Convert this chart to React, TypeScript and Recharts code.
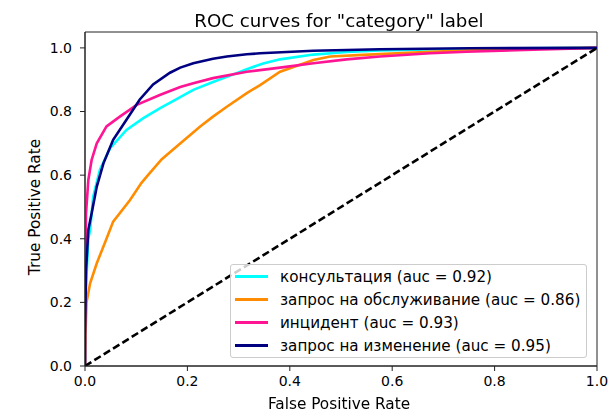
import React from "react";
import { LineChart, Line, XAxis, YAxis, ReferenceArea } from "recharts";

const fprCyan = [0, 0, 0.002, 0.0065, 0.01, 0.016, 0.029, 0.049, 0.081, 0.114, 0.146, 0.186, 0.2115, 0.25, 0.277, 0.316, 0.348, 0.381, 0.446, 0.511, 0.576, 0.7, 0.85, 1];
const tprCyan = [0, 0.15, 0.25, 0.4, 0.428, 0.532, 0.616, 0.685, 0.742, 0.779, 0.81, 0.845, 0.868, 0.893, 0.909, 0.933, 0.951, 0.964, 0.979, 0.987, 0.992, 0.996, 0.999, 1];

const fprOrange = [0, 0.001, 0.003, 0.01, 0.023, 0.042, 0.055, 0.088, 0.11, 0.123, 0.15, 0.179, 0.225, 0.25, 0.277, 0.316, 0.342, 0.381, 0.446, 0.479, 0.543, 0.674, 0.8, 0.9, 1];
const tprOrange = [0, 0.1, 0.2, 0.26, 0.323, 0.4, 0.454, 0.522, 0.575, 0.6, 0.65, 0.69, 0.753, 0.784, 0.815, 0.858, 0.883, 0.925, 0.962, 0.973, 0.978, 0.988, 0.995, 0.999, 1];

const fprPink = [0, 0, 0.001, 0.002, 0.0065, 0.013, 0.023, 0.042, 0.068, 0.101, 0.146, 0.186, 0.2115, 0.25, 0.316, 0.381, 0.446, 0.511, 0.576, 0.674, 0.745, 0.875, 1];
const tprPink = [0, 0.2, 0.35, 0.48, 0.585, 0.648, 0.7, 0.753, 0.784, 0.821, 0.852, 0.877, 0.889, 0.905, 0.925, 0.938, 0.952, 0.964, 0.973, 0.983, 0.988, 0.994, 1];

const fprNavy = [0, 0, 0.002, 0.0065, 0.013, 0.023, 0.036, 0.055, 0.081, 0.107, 0.133, 0.166, 0.186, 0.2115, 0.25, 0.277, 0.316, 0.342, 0.446, 0.576, 0.75, 1];
const tprNavy = [0, 0.1, 0.3, 0.428, 0.48, 0.564, 0.637, 0.711, 0.774, 0.838, 0.885, 0.922, 0.938, 0.952, 0.966, 0.973, 0.98, 0.983, 0.991, 0.996, 0.999, 1];

const chanceX = [0, 1];
const chanceY = [0, 1];

const seriesNames = [
  "консультация (auc = 0.92)",
  "запрос на обслуживание (auc = 0.86)",
  "инцидент (auc = 0.93)",
  "запрос на изменение (auc = 0.95)",
];
const seriesColors = ["#00FFFF", "#FF8C00", "#FF1493", "#000080"];

const xTicks = [0, 0.2, 0.4, 0.6, 0.8, 1.0];
const yTicks = [0, 0.2, 0.4, 0.6, 0.8, 1.0];

const toPts = (f: number[], t: number[]) => f.map((x, i) => ({ x, y: t[i] }));

const series = [
  toPts(fprCyan, tprCyan),
  toPts(fprOrange, tprOrange),
  toPts(fprPink, tprPink),
  toPts(fprNavy, tprNavy),
];
const chance = toPts(chanceX, chanceY);

const FONT = "'DejaVu Sans', sans-serif";
const AX = "#222";

const LegendBox = () => (
  <div
    style={{
      position: "absolute",
      left: 230,
      top: 264,
      width: 357,
      height: 94,
      border: "1px solid #cccccc",
      borderRadius: 3,
      background: "rgba(255,255,255,0.8)",
      boxSizing: "border-box",
      padding: "0 0 0 4px",
      fontFamily: FONT,
      fontSize: 15.2,
      color: "#000",
    }}
  >
    {seriesNames.map((n, i) => (
      <div key={n} style={{ display: "flex", alignItems: "center", height: 23 }}>
        <div style={{ width: 33, height: 3, background: seriesColors[i], marginRight: 12 }} />
        <span style={{ whiteSpace: "nowrap" }}>{n}</span>
      </div>
    ))}
  </div>
);

export default function App() {
  return (
    <div style={{ position: "fixed", left: 0, top: 0, width: 616, height: 412, background: "#fff", fontFamily: FONT }}>
      <div style={{ position: "absolute", left: 0, top: 0 }}>
        <LineChart width={616} height={412} margin={{ top: 32, right: 19, bottom: 16, left: 35 }}>
          <XAxis
            dataKey="x"
            type="number"
            domain={[0, 1]}
            ticks={xTicks}
            tickFormatter={(v: number) => v.toFixed(1)}
            height={30}
            tickSize={5}
            tickMargin={5}
            axisLine={{ stroke: AX }}
            tickLine={{ stroke: AX }}
            tick={{ fill: "#000", fontSize: 14, fontFamily: FONT }}
            allowDataOverflow
          />
          <YAxis
            dataKey="y"
            type="number"
            domain={[0, 1.05]}
            ticks={yTicks}
            tickFormatter={(v: number) => v.toFixed(1)}
            width={50}
            tickSize={5}
            tickMargin={8}
            axisLine={{ stroke: AX }}
            tickLine={{ stroke: AX }}
            tick={{ fill: "#000", fontSize: 14, fontFamily: FONT }}
            allowDataOverflow
          />
          <ReferenceArea x1={0} x2={1} y1={0} y2={1.05} fill="none" stroke={AX} strokeWidth={1} ifOverflow="visible" />
          {series.map((d, i) => (
            <Line
              key={seriesNames[i]}
              data={d}
              dataKey="y"
              name={seriesNames[i]}
              type="linear"
              stroke={seriesColors[i]}
              strokeWidth={2.6}
              dot={false}
              activeDot={false}
              isAnimationActive={false}
            />
          ))}
          <Line
            data={chance}
            dataKey="y"
            name="chance"
            type="linear"
            stroke="#000"
            strokeWidth={2.6}
            strokeDasharray="7.5 3.5"
            dot={false}
            activeDot={false}
            isAnimationActive={false}
            legendType="none"
          />
        </LineChart>
      </div>
      <div style={{ position: "absolute", left: 0, width: 678, top: 10, textAlign: "center", fontSize: 18.2, color: "#000", whiteSpace: "nowrap" }}>
        ROC curves for "category" label
      </div>
      <div style={{ position: "absolute", left: 0, width: 678, top: 395, textAlign: "center", fontSize: 15.3, color: "#000", whiteSpace: "nowrap" }}>
        False Positive Rate
      </div>
      <div
        style={{
          position: "absolute",
          left: 35,
          top: 207,
          transform: "translate(-50%, -50%) rotate(-90deg)",
          whiteSpace: "nowrap",
          fontSize: 15.3,
          color: "#000",
        }}
      >
        True Positive Rate
      </div>
      <LegendBox />
    </div>
  );
}
